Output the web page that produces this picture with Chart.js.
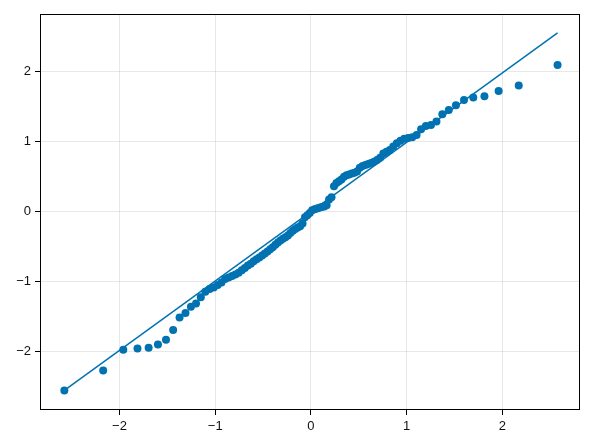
<!DOCTYPE html>
<html>
<head>
<meta charset="utf-8">
<script src="https://cdn.jsdelivr.net/npm/chart.js@4"></script>
<style>
  html, body { margin: 0; padding: 0; background: #fff; }
  #qq { display: block; }
</style>
</head>
<body>
<canvas id="qq" width="596" height="446"></canvas>
<script>
// theoretical normal quantiles (x) and sorted sample values (y)
const theoretical = [
  -2.5758, -2.1701, -1.9600, -1.8119, -1.6954, -1.5982, -1.5141, -1.4395, -1.3722, -1.3106,
  -1.2536, -1.2004, -1.1503, -1.1031, -1.0581, -1.0152, -0.9741, -0.9346, -0.8965, -0.8596,
  -0.8239, -0.7892, -0.7554, -0.7225, -0.6903, -0.6588, -0.6280, -0.5978, -0.5681, -0.5388,
  -0.5101, -0.4817, -0.4538, -0.4261, -0.3989, -0.3719, -0.3451, -0.3186, -0.2924, -0.2663,
  -0.2404, -0.2147, -0.1891, -0.1637, -0.1383, -0.1130, -0.0878, -0.0627, -0.0376, -0.0125,
  0.0125, 0.0376, 0.0627, 0.0878, 0.1130, 0.1383, 0.1637, 0.1891, 0.2147, 0.2404,
  0.2663, 0.2924, 0.3186, 0.3451, 0.3719, 0.3989, 0.4261, 0.4538, 0.4817, 0.5101,
  0.5388, 0.5681, 0.5978, 0.6280, 0.6588, 0.6903, 0.7225, 0.7554, 0.7892, 0.8239,
  0.8596, 0.8965, 0.9346, 0.9741, 1.0152, 1.0581, 1.1031, 1.1503, 1.2004, 1.2536,
  1.3106, 1.3722, 1.4395, 1.5141, 1.5982, 1.6954, 1.8119, 1.9600, 2.1701, 2.5758
];

const sample = [
  -2.550, -2.267, -1.972, -1.953, -1.943, -1.896, -1.829, -1.690, -1.510, -1.447,
  -1.356, -1.310, -1.220, -1.144, -1.105, -1.081, -1.048, -1.010, -0.962, -0.938,
  -0.919, -0.895, -0.871, -0.837, -0.804, -0.770, -0.742, -0.708, -0.680, -0.655,
  -0.627, -0.598, -0.570, -0.536, -0.507, -0.474, -0.440, -0.410, -0.388, -0.364,
  -0.340, -0.306, -0.273, -0.249, -0.225, -0.210, -0.170, -0.080, -0.050, -0.020,
  0.020, 0.035, 0.045, 0.055, 0.065, 0.075, 0.090, 0.175, 0.206, 0.364,
  0.410, 0.435, 0.460, 0.497, 0.520, 0.531, 0.545, 0.555, 0.574, 0.627,
  0.651, 0.665, 0.680, 0.694, 0.713, 0.737, 0.770, 0.828, 0.856, 0.880,
  0.928, 0.976, 1.010, 1.040, 1.050, 1.060, 1.093, 1.174, 1.222, 1.236,
  1.288, 1.389, 1.450, 1.518, 1.594, 1.627, 1.647, 1.723, 1.800, 2.094
];

// reference line end points
const lineX = [-2.5758, 2.5758];
const lineY = [-2.550, 2.551];

const xTicks = [-2, -1, 0, 1, 2];
const yTicks = [-2, -1, 0, 1, 2];

const BLUE = 'rgb(0, 114, 178)';
const FONT = { family: '"Liberation Sans", Arial, sans-serif', size: 13 };

const minus = v => String(v).replace('-', '\u2212');

// Makie-style box around the plot area
const framePlugin = {
  id: 'frame',
  afterDraw(chart) {
    const { ctx, chartArea: a } = chart;
    ctx.save();
    ctx.strokeStyle = '#000';
    ctx.lineWidth = 1;
    ctx.strokeRect(Math.round(a.left) + 0.5, Math.round(a.top) + 0.5,
      Math.round(a.right - a.left) - 1, Math.round(a.bottom - a.top) - 1);
    ctx.restore();
  }
};

function axis(ticks, min, max) {
  return {
    type: 'linear',
    min, max,
    afterBuildTicks: s => { s.ticks = ticks.map(v => ({ value: v })); },
    grid: {
      color: 'rgba(0,0,0,0.09)',
      lineWidth: 1,
      drawTicks: true,
      tickLength: 5,
      tickColor: '#000'
    },
    border: { display: false },
    ticks: {
      color: '#111',
      font: FONT,
      padding: 4,
      callback: v => minus(v)
    }
  };
}

const xScale = axis(xTicks, -2.83, 2.81);
xScale.afterFit = s => { s.height = 36; };
const yScale = axis(yTicks, -2.83, 2.82);
yScale.afterFit = s => { s.width = 40; };

new Chart(document.getElementById('qq'), {
  type: 'scatter',
  data: {
    datasets: [
      {
        label: 'sample',
        data: theoretical.map((x, i) => ({ x, y: sample[i] })),
        backgroundColor: BLUE,
        borderWidth: 0,
        pointRadius: 4,
        order: 1
      },
      {
        type: 'line',
        label: 'fit',
        data: lineX.map((x, i) => ({ x, y: lineY[i] })),
        borderColor: BLUE,
        borderWidth: 1.5,
        pointRadius: 0,
        fill: false,
        order: 2
      }
    ]
  },
  options: {
    responsive: false,
    animation: false,
    layout: { padding: { left: 0, right: 16, top: 14, bottom: 0 } },
    plugins: { legend: { display: false }, tooltip: { enabled: false } },
    scales: { x: xScale, y: yScale }
  },
  plugins: [framePlugin]
});
</script>
</body>
</html>
